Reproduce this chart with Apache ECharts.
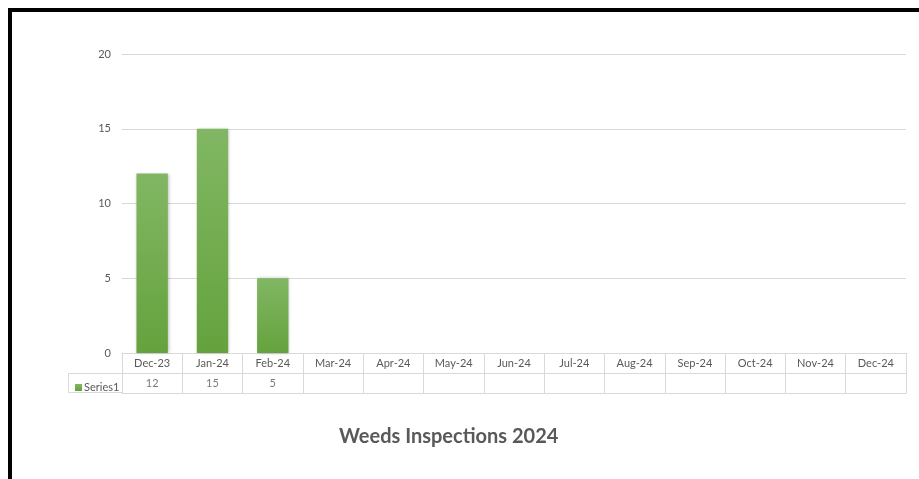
<!DOCTYPE html>
<html>
<head>
<meta charset="utf-8">
<style>html,body{margin:0;padding:0;background:#fff;}#c{width:919px;height:479px;}</style>
<script src="https://cdn.jsdelivr.net/npm/echarts@6/dist/echarts.min.js"></script>
</head>
<body>
<div id="c"></div>
<script>
const categories = ['Dec-23','Jan-24','Feb-24','Mar-24','Apr-24','May-24','Jun-24','Jul-24','Aug-24','Sep-24','Oct-24','Nov-24','Dec-24'];
const series1 = [12, 15, 5, null, null, null, null, null, null, null, null, null, null];
const yTicks = [0, 5, 10, 15, 20];
const seriesName = 'Series1';
const titleText = 'Weeds Inspections 2024';

const FONT = 'Lato';
const TXT = '#595959';
const LINE = '#d9d9d9';

const chart = echarts.init(document.getElementById('c'), null, {renderer: 'canvas'});
const tableData = series1.map((v, i) => [categories[i], seriesName, v]).filter(d => d[2] != null);

chart.setOption({
  animation: false,
  textStyle: {fontFamily: FONT},
  title: {
    text: titleText, left: 334, top: 422,
    textStyle: {fontFamily: FONT, fontSize: 20, fontWeight: 'bold', color: TXT}
  },
  legend: {
    data: [{name: seriesName, icon: 'rect'}],
    left: 70, top: 377, itemWidth: 7, itemHeight: 7, itemGap: 2,
    textStyle: {fontFamily: FONT, fontSize: 11, color: TXT, padding: [0,0,0,-3]}
  },
  grid: [
    {left: 122, right: 13, top: 54, height: 299},
    {left: 122, right: 13, top: 353, height: 40}
  ],
  xAxis: [
    {
      type: 'category', data: categories, gridIndex: 0,
      axisLine: {show: true, lineStyle: {color: LINE, width: 1}},
      axisTick: {show: false},
      axisLabel: {interval: 0, margin: 5, fontSize: 11, color: TXT, fontFamily: FONT}
    },
    {
      type: 'category', data: categories, gridIndex: 1,
      axisLine: {show: true, lineStyle: {color: LINE}},
      axisTick: {show: false}, axisLabel: {show: false},
      splitLine: {show: true, interval: 0, lineStyle: {color: LINE}}
    }
  ],
  yAxis: [
    {
      type: 'value', min: 0, max: 20, interval: 5, gridIndex: 0,
      axisLine: {show: false}, axisTick: {show: false},
      axisLabel: {margin: 11, fontSize: 11, color: TXT, fontFamily: FONT,
        formatter: v => yTicks.includes(v) ? String(v) : ''},
      splitLine: {show: true, lineStyle: {color: LINE}}
    },
    {
      type: 'category', data: [seriesName, 'header'], gridIndex: 1,
      axisLine: {show: true, lineStyle: {color: LINE}},
      axisTick: {show: false}, axisLabel: {show: false},
      splitLine: {show: true, interval: 0, lineStyle: {color: LINE}}
    }
  ],
  series: [
    {
      name: seriesName, type: 'bar', data: series1, barWidth: '52%',
      xAxisIndex: 0, yAxisIndex: 0,
      itemStyle: {
        color: new echarts.graphic.LinearGradient(0, 0, 0, 1, [
          {offset: 0, color: '#81b763'},
          {offset: 1, color: '#65a23d'}
        ]),
        shadowColor: 'rgba(0,0,0,0.25)', shadowBlur: 3, shadowOffsetX: 1, shadowOffsetY: 0
      }
    },
    {
      type: 'scatter', xAxisIndex: 1, yAxisIndex: 1, data: tableData,
      symbolSize: 0, silent: true, legendHoverLink: false,
      label: {show: true, position: 'inside', formatter: p => String(p.value[2]),
        fontSize: 11, color: TXT, fontFamily: FONT}
    }
  ],
  graphic: [
    {type: 'rect', silent: true, shape: {x: 10, y: 10, width: 1200, height: 1200},
      style: {fill: 'none', stroke: '#000', lineWidth: 4}},
    {type: 'rect', silent: true, shape: {x: 68.5, y: 373.5, width: 54, height: 19},
      style: {fill: 'none', stroke: LINE, lineWidth: 1}, z: -1}
  ]
});
</script>
</body>
</html>
